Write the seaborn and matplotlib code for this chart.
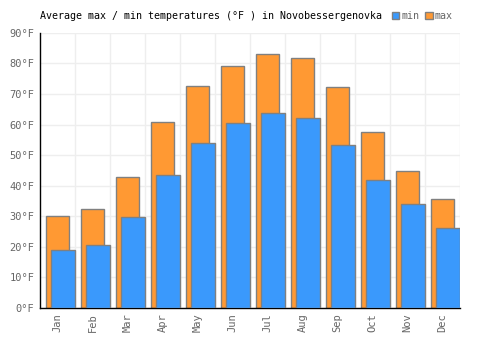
import numpy as np
import matplotlib
matplotlib.use("Agg")
import matplotlib.pyplot as plt
import seaborn as sns
from matplotlib.patches import Patch

# Monthly averages (°F)
months = ["Jan", "Feb", "Mar", "Apr", "May", "Jun", "Jul", "Aug", "Sep", "Oct", "Nov", "Dec"]
max_temps = [30.1, 32.4, 42.8, 60.8, 72.6, 79.2, 83.1, 81.8, 72.3, 57.5, 44.8, 35.7]
min_temps = [19.0, 20.6, 29.8, 43.5, 54.0, 60.5, 63.8, 62.2, 53.3, 41.9, 34.0, 26.2]
y_ticks = [0, 10, 20, 30, 40, 50, 60, 70, 80, 90]

blue = "#3a99fc"
orange = "#ff9933"
edge = "#808080"

sns.set_theme(style="white")
plt.rcParams["font.family"] = ["DejaVu Sans Mono", "DejaVu Sans"]

fig = plt.figure(figsize=(5, 3.5), dpi=100)
ax = fig.add_axes([0.08, 0.12, 0.84, 0.786])

pos = np.arange(len(months))

# max bars, centred on each month
sns.barplot(x=pos, y=max_temps, native_scale=True, width=0.65, color=orange,
            edgecolor=edge, linewidth=1, saturation=1, ax=ax, zorder=2)
# min bars, shifted to the right edge of each month
sns.barplot(x=pos + 0.16, y=min_temps, native_scale=True, width=0.70, color=blue,
            edgecolor=edge, linewidth=1, saturation=1, ax=ax, zorder=3)

ax.set_xlim(-0.5, 11.5)
ax.set_ylim(0, 90)
ax.set_xticks(pos)
ax.set_xticklabels(months, rotation=90)
ax.set_xticks(pos + 0.5, minor=True)
ax.set_yticks(y_ticks)
ax.set_yticklabels([f"{t}°F" for t in y_ticks])
ax.tick_params(axis="both", which="both", length=0, labelsize=7.5, colors="#666666", pad=4)

ax.grid(True, axis="y", which="major", color="#eeeeee", linewidth=1, zorder=0)
ax.grid(True, axis="x", which="minor", color="#eeeeee", linewidth=1, zorder=0)
ax.set_axisbelow(True)

for side in ["top", "right"]:
    ax.spines[side].set_visible(False)
for side in ["left", "bottom"]:
    ax.spines[side].set_color("black")
    ax.spines[side].set_linewidth(1)

ax.set_xlabel("")
ax.set_ylabel("")

fig.text(0.08, 0.955, "Average max / min temperatures (°F ) in Novobessergenovka",
         fontsize=7.2, color="black", va="center", ha="left")

handles = [Patch(facecolor=blue, edgecolor=edge, label="min"),
           Patch(facecolor=orange, edgecolor=edge, label="max")]
leg = fig.legend(handles=handles, loc="center left", bbox_to_anchor=(0.783, 0.955),
                 ncol=2, frameon=False, fontsize=7.2, handlelength=0.75, handleheight=0.75,
                 handletextpad=0.2, columnspacing=0.6, borderpad=0, borderaxespad=0)
for t in leg.get_texts():
    t.set_color("#666666")

fig.savefig("out.png", dpi=100)
